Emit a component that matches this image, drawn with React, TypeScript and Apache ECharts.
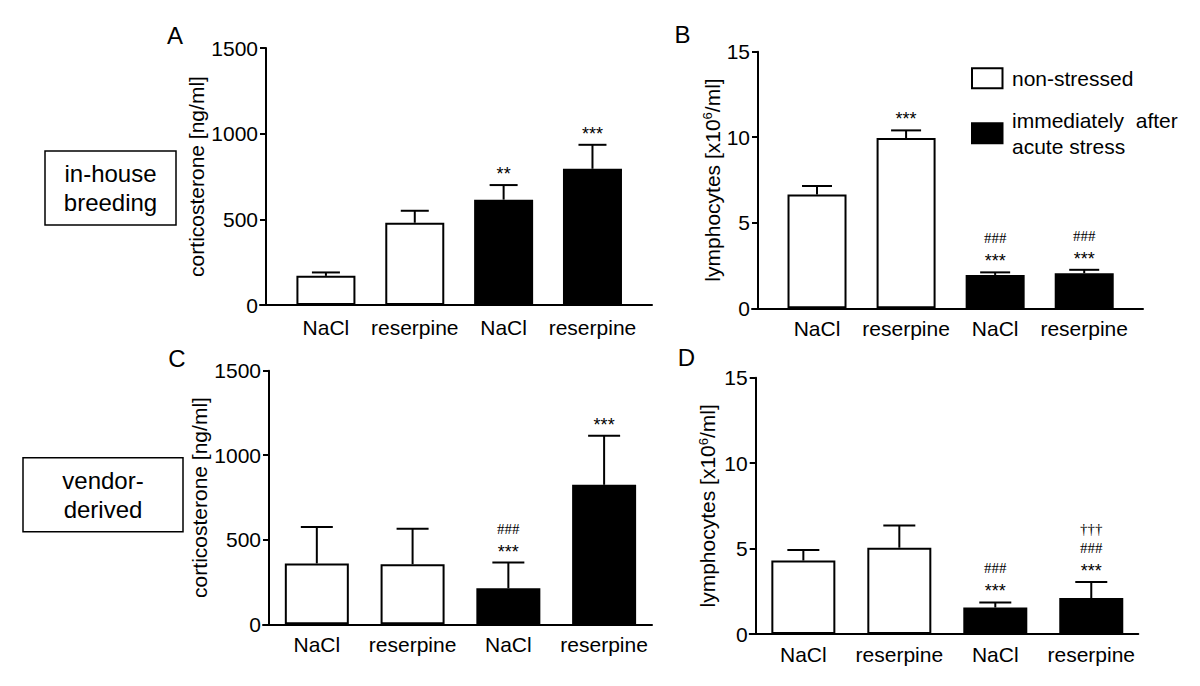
import React, { useEffect, useRef } from "react";
import * as echarts from "echarts";

// ---------- data ----------
const categories = ["NaCl", "reserpine", "NaCl", "reserpine"];
const stressedFlags = [false, false, true, true];

const corticoInHouse = [170, 480, 615, 795];
const corticoInHouseErr = [20, 70, 85, 140];
const lymphInHouse = [6.65, 9.95, 1.95, 2.05];
const lymphInHouseErr = [0.5, 0.45, 0.15, 0.2];
const corticoVendor = [360, 355, 213, 825];
const corticoVendorErr = [215, 210, 152, 290];
const lymphVendor = [4.3, 5.05, 1.55, 2.1];
const lymphVendorErr = [0.62, 1.3, 0.3, 0.95];

const annotA: string[][] = [[], [], ["**"], ["***"]];
const annotB: string[][] = [[], ["***"], ["###", "***"], ["###", "***"]];
const annotC: string[][] = [[], [], ["###", "***"], ["***"]];
const annotD: string[][] = [[], [], ["###", "***"], ["†††", "###", "***"]];

const corticoAxisMax = 1500;
const corticoAxisStep = 500;
const lymphAxisMax = 15;
const lymphAxisStep = 5;

const corticoName = "corticosterone [ng/ml]";
const lymphName = "lymphocytes [x10{sup|6}/ml]";
const legendLabels = ["non-stressed", "immediately  after\nacute stress"];
const groupLabels = ["in-house\nbreeding", "vendor-\nderived"];
const panelLetters = ["A", "B", "C", "D"];

const FONT = "'Liberation Sans', Arial, Helvetica, sans-serif";
const SERIF = "'Liberation Serif', 'Times New Roman', serif";

type Panel = {
  grid: { left: number; top: number; width: number; height: number };
  xMin: number;
  xMax: number;
  barWidth: number;
  values: number[];
  errors: number[];
  annots: string[][];
  yMax: number;
  yStep: number;
  name: string;
  nameGap: number;
  labelMargin: number;
  capW: number;
};

const panels: Panel[] = [
  {
    grid: { left: 260, top: 48, width: 392, height: 257 },
    xMin: -0.742, xMax: 3.67, barWidth: 59,
    values: corticoInHouse, errors: corticoInHouseErr, annots: annotA,
    yMax: corticoAxisMax, yStep: corticoAxisStep, name: corticoName,
    nameGap: 54, labelMargin: 12, capW: 28,
  },
  {
    grid: { left: 752, top: 51.7, width: 391, height: 256.6 },
    xMin: -0.73, xMax: 3.66, barWidth: 59,
    values: lymphInHouse, errors: lymphInHouseErr, annots: annotB,
    yMax: lymphAxisMax, yStep: lymphAxisStep, name: lymphName,
    nameGap: 34, labelMargin: 10, capW: 30,
  },
  {
    grid: { left: 263, top: 370.7, width: 389, height: 253.6 },
    xMin: -0.562, xMax: 3.5, barWidth: 64,
    values: corticoVendor, errors: corticoVendorErr, annots: annotC,
    yMax: corticoAxisMax, yStep: corticoAxisStep, name: corticoName,
    nameGap: 52, labelMargin: 10, capW: 32,
  },
  {
    grid: { left: 749.7, top: 377.7, width: 388.6, height: 256.3 },
    xMin: -0.559, xMax: 3.49, barWidth: 64,
    values: lymphVendor, errors: lymphVendorErr, annots: annotD,
    yMax: lymphAxisMax, yStep: lymphAxisStep, name: lymphName,
    nameGap: 37, labelMargin: 10, capW: 32,
  },
];

function buildOption() {
  const grids: any[] = [];
  const xAxes: any[] = [];
  const yAxes: any[] = [];
  const series: any[] = [];

  panels.forEach((p, gi) => {
    grids.push({ ...p.grid, containLabel: false });
    xAxes.push({
      type: "value",
      gridIndex: gi,
      min: p.xMin,
      max: p.xMax,
      minInterval: 1,
      maxInterval: 1,
      splitLine: { show: false },
      axisTick: { show: false },
      axisLine: { show: true, onZero: false, lineStyle: { color: "#000", width: 2 } },
      axisLabel: {
        show: true,
        color: "#000",
        fontSize: 21,
        fontFamily: FONT,
        margin: p.labelMargin,
        showMinLabel: true,
        showMaxLabel: true,
        formatter: (v: number) => {
          const i = Math.round(v);
          if (Math.abs(v - i) < 1e-6 && i >= 0 && i < categories.length) return categories[i];
          return "";
        },
      },
    });
    yAxes.push({
      type: "value",
      gridIndex: gi,
      min: 0,
      max: p.yMax,
      interval: p.yStep,
      offset: -6,
      splitLine: { show: false },
      axisLine: { show: true, onZero: false, lineStyle: { color: "#000", width: 2 } },
      axisTick: { show: true, inside: false, length: 6, lineStyle: { color: "#000", width: 2 } },
      axisLabel: {
        color: "#000",
        fontSize: 21,
        fontFamily: FONT,
        margin: 8,
        padding: [4, 0, 0, 0],
        formatter: (v: number) => String(v),
      },
      name: p.name,
      nameLocation: "middle",
      nameRotate: 90,
      nameGap: p.nameGap,
      nameTextStyle: {
        color: "#000",
        fontSize: 21,
        fontFamily: FONT,
        rich: {
          sup: { fontSize: 13, fontFamily: FONT, color: "#000", verticalAlign: "bottom", padding: [0, 0, 9, 0] },
        },
      },
    });

    series.push({
      type: "bar",
      xAxisIndex: gi,
      yAxisIndex: gi,
      barWidth: p.barWidth,
      silent: true,
      data: p.values.map((v, i) => ({
        value: [i, v],
        itemStyle: {
          color: stressedFlags[i] ? "#000" : "#fff",
          borderColor: "#000",
          borderWidth: 2,
        },
      })),
    });

    series.push({
      type: "custom",
      xAxisIndex: gi,
      yAxisIndex: gi,
      silent: true,
      z: 5,
      data: p.values.map((v, i) => [i, v, p.errors[i]]),
      renderItem: (params: any, api: any) => {
        const x = api.value(0);
        const v = api.value(1);
        const e = api.value(2);
        const base = api.coord([x, v]);
        const top = api.coord([x, v + e]);
        const stroke = { stroke: "#000", lineWidth: 2 };
        const children: any[] = [
          { type: "line", shape: { x1: base[0], y1: base[1], x2: top[0], y2: top[1] }, style: stroke },
          { type: "line", shape: { x1: top[0] - p.capW / 2, y1: top[1], x2: top[0] + p.capW / 2, y2: top[1] }, style: stroke },
        ];
        const lines = p.annots[params.dataIndex] || [];
        for (let k = 0; k < lines.length; k++) {
          const t = lines[lines.length - 1 - k];
          const isStar = t.indexOf("*") >= 0;
          const cy = top[1] - 15 - k * 19;
          children.push({
            type: "text",
            x: top[0],
            y: isStar ? cy + 4 : cy,
            style: {
              text: t,
              align: "center",
              verticalAlign: "middle",
              fontSize: isStar ? 18 : 15,
              fontFamily: isStar ? FONT : SERIF,
              fill: "#000",
            },
          });
        }
        return { type: "group", children };
      },
    });
  });

  const letterPos = [
    [175, 35],
    [682.5, 34.5],
    [177, 358],
    [686.5, 357.5],
  ];

  const graphic: any[] = [];
  panelLetters.forEach((l, i) => {
    graphic.push({
      type: "text",
      x: letterPos[i][0],
      y: letterPos[i][1],
      style: { text: l, fontSize: 24, fontFamily: FONT, fill: "#000", align: "center", verticalAlign: "middle" },
    });
  });

  const boxes = [
    { x: 45, y: 151, w: 131, h: 74 },
    { x: 23, y: 457.7, w: 160, h: 74 },
  ];
  groupLabels.forEach((g, i) => {
    const b = boxes[i];
    graphic.push({
      type: "rect",
      shape: { x: b.x, y: b.y, width: b.w, height: b.h },
      style: { fill: "#fff", stroke: "#000", lineWidth: 1.5 },
    });
    graphic.push({
      type: "text",
      x: b.x + b.w / 2,
      y: b.y + b.h / 2,
      style: { text: g, fontSize: 24, lineHeight: 29, fontFamily: FONT, fill: "#000", align: "center", verticalAlign: "middle" },
    });
  });

  // legend
  const legendRects = [
    { y: 68.3, fill: "#fff" },
    { y: 123.3, fill: "#000" },
  ];
  legendLabels.forEach((lab, i) => {
    const r = legendRects[i];
    graphic.push({
      type: "rect",
      shape: { x: 972, y: r.y, width: 30.5, height: 20 },
      style: { fill: r.fill, stroke: "#000", lineWidth: 2 },
    });
    graphic.push({
      type: "text",
      x: 1012,
      y: r.y + 10,
      style: { text: lab, fontSize: 21, lineHeight: 25.7, fontFamily: FONT, fill: "#000", align: "left", verticalAlign: "middle" },
    });
  });

  return {
    animation: false,
    backgroundColor: "#fff",
    grid: grids,
    xAxis: xAxes,
    yAxis: yAxes,
    series,
    graphic,
  };
}

export default function App() {
  const ref = useRef<HTMLDivElement>(null);
  useEffect(() => {
    if (!ref.current) return;
    const chart = echarts.init(ref.current, undefined, { renderer: "svg" });
    chart.setOption(buildOption() as any);
    return () => chart.dispose();
  }, []);
  return (
    <div
      ref={ref}
      style={{ position: "fixed", left: 0, top: 0, width: 1200, height: 686, background: "#fff" }}
    />
  );
}
